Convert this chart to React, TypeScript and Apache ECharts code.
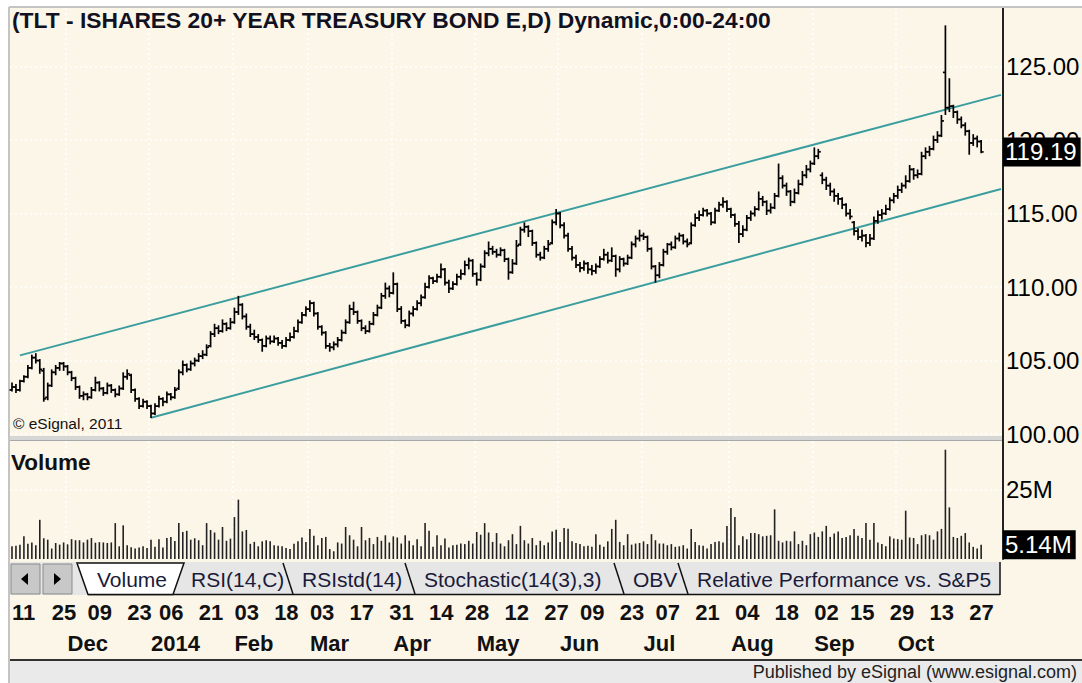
import React, { useEffect, useRef } from "react";
import * as echarts from "echarts";

// ---------- calendar ----------
const FIRST_DAY = "2013-11-11";
const LAST_AXIS_DAY = "2014-11-06";
const HOLIDAYS = ["2013-11-28", "2013-12-25", "2014-01-01", "2014-01-20", "2014-02-17", "2014-04-18", "2014-05-26", "2014-07-04", "2014-09-01"];

function tradingDays(start: string, end: string, holidays: string[]): string[] {
  const out: string[] = [];
  const d = new Date(start + "T00:00:00Z");
  const e = new Date(end + "T00:00:00Z");
  while (d <= e) {
    const wd = d.getUTCDay();
    const s = d.toISOString().slice(0, 10);
    if (wd !== 0 && wd !== 6 && holidays.indexOf(s) < 0) out.push(s);
    d.setUTCDate(d.getUTCDate() + 1);
  }
  return out;
}
const DATES = tradingDays(FIRST_DAY, LAST_AXIS_DAY, HOLIDAYS);

const DAY_LABEL_DATES = ["2013-11-11", "2013-11-25", "2013-12-09", "2013-12-23", "2014-01-06", "2014-01-21", "2014-02-03", "2014-02-18", "2014-03-03", "2014-03-17", "2014-03-31", "2014-04-14", "2014-04-28", "2014-05-12", "2014-05-27", "2014-06-09", "2014-06-23", "2014-07-07", "2014-07-21", "2014-08-04", "2014-08-18", "2014-09-02", "2014-09-15", "2014-09-29", "2014-10-13", "2014-10-27"];
const MONTH_START_DATES = ["2013-12-02", "2014-01-02", "2014-02-03", "2014-03-03", "2014-04-01", "2014-05-01", "2014-06-02", "2014-07-01", "2014-08-01", "2014-09-02", "2014-10-01"];
const MONTH_NAMES = ["Dec", "2014", "Feb", "Mar", "Apr", "May", "Jun", "Jul", "Aug", "Sep", "Oct"];

// ---------- price bars [open, high, low, close] ----------
const PRICE_BARS = [
  [103.0,103.5,102.9,103.2],[103.2,103.4,102.8,103.0],[103.0,103.7,102.9,103.6],[103.6,104.0,103.5,103.9],[103.9,104.7,103.8,104.5],
  [104.5,105.4,104.4,105.2],[105.2,105.5,104.8,105.0],[105.0,105.1,104.1,104.4],[104.3,104.5,102.2,102.4],[102.5,103.5,102.3,103.3],
  [103.3,104.4,103.2,104.2],[104.2,104.7,104.0,104.5],[104.5,104.9,104.3,104.8],[104.8,104.9,104.3,104.6],[104.6,104.7,104.0,104.2],
  [104.2,104.3,103.6,103.8],[103.8,103.9,103.0,103.2],[103.2,103.3,102.4,102.6],[102.6,102.9,102.3,102.7],[102.7,102.8,102.3,102.5],
  [102.5,103.2,102.4,103.0],[103.0,103.9,102.9,103.5],[103.5,103.6,102.9,103.1],[103.1,103.2,102.6,102.8],[102.8,103.5,102.7,103.3],
  [103.3,103.4,102.8,103.0],[103.0,103.1,102.5,102.7],[102.7,103.3,102.6,103.1],[103.1,104.2,103.0,103.9],[103.9,104.4,103.7,104.1],
  [104.0,104.1,102.8,103.0],[103.0,103.1,102.2,102.4],[102.4,102.5,101.7,101.9],[101.9,102.4,101.8,102.2],[102.2,102.3,101.7,101.9],
  [101.9,102.0,101.1,101.4],[101.4,102.1,101.3,101.9],[101.9,102.6,101.8,102.4],[102.4,102.5,101.9,102.2],[102.2,102.9,102.1,102.7],
  [102.7,102.8,102.3,102.5],[102.5,103.2,102.4,103.0],[103.1,104.4,103.0,104.2],[104.2,105.0,104.0,104.7],[104.7,104.8,104.2,104.4],
  [104.4,105.0,104.3,104.8],[104.8,105.2,104.6,105.0],[105.0,105.5,104.9,105.3],[105.3,105.7,105.1,105.4],[105.4,106.1,105.3,105.9],
  [106.0,107.0,105.9,106.8],[106.8,107.5,106.6,107.2],[107.2,107.4,106.8,107.0],[107.0,107.8,106.9,107.5],[107.5,107.6,107.0,107.2],
  [107.2,107.9,107.1,107.6],[107.6,108.6,107.5,108.3],[108.3,109.4,108.1,108.8],[108.8,108.9,107.8,108.0],[108.0,108.2,107.1,107.3],
  [107.3,107.5,106.6,106.8],[106.8,107.1,106.4,106.6],[106.6,106.8,106.2,106.4],[106.4,106.5,105.6,106.0],[106.0,106.7,105.9,106.5],
  [106.5,106.7,106.1,106.3],[106.3,106.7,106.2,106.5],[106.5,106.6,106.0,106.2],[106.2,106.4,105.8,106.0],[106.0,106.6,105.9,106.4],
  [106.4,106.9,106.3,106.6],[106.6,107.3,106.5,107.0],[107.0,107.8,106.9,107.6],[107.6,108.3,107.5,108.1],[108.1,108.7,108.0,108.5],
  [108.5,109.1,108.3,108.9],[108.9,109.0,108.0,108.2],[108.2,108.3,107.1,107.3],[107.3,107.4,106.7,106.9],[106.9,107.0,105.8,106.0],
  [106.0,106.2,105.6,105.9],[105.9,106.3,105.7,106.1],[106.1,106.6,105.9,106.4],[106.4,107.1,106.3,106.9],[106.9,107.8,106.8,107.6],
  [107.6,108.8,107.5,108.5],[108.5,109.0,108.1,108.3],[108.3,108.4,107.5,107.7],[107.7,107.8,107.0,107.2],[107.2,107.4,106.8,107.0],
  [107.0,107.7,106.9,107.5],[107.5,108.3,107.4,108.1],[108.1,108.8,108.0,108.6],[108.6,109.6,108.5,109.4],[109.4,110.3,109.2,109.9],
  [109.9,110.1,109.3,109.6],[109.6,111.0,109.5,110.2],[110.2,110.3,108.3,108.5],[108.5,108.7,107.5,107.7],[107.7,107.8,107.2,107.4],
  [107.4,108.4,107.3,108.2],[108.2,108.7,108.0,108.5],[108.5,109.1,108.4,108.9],[108.9,109.5,108.7,109.3],[109.3,110.3,109.2,110.0],
  [110.0,110.8,109.9,110.6],[110.6,110.7,110.2,110.4],[110.4,110.9,110.3,110.7],[110.7,111.6,110.6,111.2],[111.2,111.3,110.1,110.3],
  [110.3,110.5,109.6,109.9],[109.9,110.4,109.8,110.2],[110.2,110.9,110.1,110.7],[110.7,111.2,110.5,110.9],[110.9,111.8,110.8,111.5],
  [111.5,112.0,111.2,111.8],[111.8,111.9,110.7,110.9],[110.9,111.0,110.1,110.5],[110.5,111.6,110.4,111.4],[111.4,112.5,111.3,112.3],
  [112.3,113.1,112.1,112.6],[112.6,112.8,112.2,112.4],[112.4,112.6,112.0,112.2],[112.2,112.7,112.1,112.5],[112.5,112.6,111.7,111.9],
  [111.9,112.0,110.5,111.0],[111.0,111.9,110.9,111.6],[111.6,113.2,111.5,112.8],[112.9,114.1,112.8,113.9],[113.9,114.4,113.7,114.1],
  [114.1,114.2,113.4,113.8],[113.8,113.9,112.8,113.0],[113.0,113.1,112.0,112.2],[112.2,112.4,111.8,112.0],[112.0,112.8,111.9,112.6],
  [112.6,113.2,112.4,112.9],[113.0,114.6,112.9,114.4],[114.4,115.3,114.2,115.0],[115.0,115.1,114.0,114.2],[114.2,114.4,113.3,113.5],
  [113.5,113.7,112.4,112.6],[112.6,112.8,111.8,112.0],[112.0,112.2,111.3,111.5],[111.5,111.7,111.0,111.3],[111.3,111.8,111.1,111.6],
  [111.6,111.7,110.9,111.2],[111.2,111.5,110.8,111.1],[111.1,111.6,110.9,111.4],[111.4,112.1,111.3,111.9],[111.9,112.6,111.8,112.2],
  [112.2,112.4,111.6,111.8],[111.8,112.7,111.7,112.1],[112.1,112.2,110.7,111.2],[111.2,112.1,111.0,111.9],[111.9,112.0,111.4,111.6],
  [111.6,112.2,111.5,112.0],[112.0,113.1,111.9,112.9],[112.9,113.5,112.7,113.3],[113.3,113.9,113.1,113.5],[113.5,113.7,113.2,113.4],
  [113.4,113.5,112.4,112.6],[112.6,112.7,111.2,111.4],[111.4,111.5,110.3,110.8],[110.8,111.7,110.6,111.5],[111.5,112.6,111.4,112.4],
  [112.4,113.0,112.2,112.9],[112.9,113.1,112.5,112.7],[112.7,113.5,112.6,113.3],[113.3,113.7,113.1,113.5],[113.5,113.6,112.9,113.1],
  [113.1,113.3,112.7,112.9],[113.0,114.4,112.9,114.2],[114.2,115.0,114.1,114.7],[114.7,115.2,114.5,114.9],[114.9,115.4,114.8,115.2],
  [115.2,115.3,114.8,115.0],[115.0,115.1,114.2,114.4],[114.4,115.4,114.3,115.2],[115.2,115.8,115.1,115.6],[115.6,116.1,115.4,115.8],
  [115.8,115.9,115.1,115.3],[115.3,115.4,114.7,114.9],[114.9,115.0,114.1,114.3],[114.3,114.5,113.0,113.6],[113.6,114.2,113.4,113.9],
  [113.9,114.9,113.8,114.7],[114.7,115.2,114.5,115.0],[115.0,115.5,114.8,115.3],[115.3,116.5,115.2,116.0],[116.0,116.2,115.5,115.8],
  [115.8,115.9,114.9,115.2],[115.2,115.7,115.0,115.4],[115.4,116.4,115.3,116.2],[116.2,118.4,116.1,117.4],[117.4,117.6,116.7,116.9],
  [116.9,117.1,116.2,116.5],[116.5,116.6,115.5,115.8],[115.8,116.7,115.7,116.4],[116.4,117.3,116.3,117.0],[117.0,117.9,116.9,117.6],
  [117.6,118.3,117.4,118.0],[118.0,118.6,117.8,118.4],[118.4,119.5,118.3,118.9],[118.9,119.4,118.7,119.2],[117.6,117.8,117.0,117.3],
  [117.3,117.5,116.6,116.9],[116.9,117.1,116.2,116.5],[116.5,116.7,115.8,116.2],[116.2,116.4,115.6,116.0],[116.0,116.1,115.3,115.6],
  [115.6,115.7,114.8,115.0],[115.0,115.3,114.6,114.8],[114.4,114.5,113.5,113.8],[113.8,114.0,113.2,113.4],[113.4,113.9,113.1,113.5],
  [113.5,113.6,112.7,113.0],[113.0,113.6,112.8,113.3],[113.3,114.8,113.2,114.5],[114.5,115.2,114.3,114.9],[114.9,115.3,114.6,115.0],
  [115.0,115.6,114.9,115.3],[115.3,116.1,115.2,115.9],[115.9,116.4,115.7,116.2],[116.2,116.9,116.0,116.6],[116.6,117.1,116.4,116.9],
  [116.9,117.6,116.7,117.2],[117.2,118.3,117.1,118.0],[118.0,118.1,117.3,117.6],[117.6,118.0,117.4,117.7],[117.7,119.2,117.6,118.9],
  [118.9,119.5,118.7,119.2],[119.2,119.6,118.9,119.4],[119.4,120.3,119.3,120.0],[120.0,120.6,119.8,120.3],[120.3,121.7,120.2,121.3],
  [124.6,127.8,121.7,122.2],[122.2,124.2,121.9,122.3],[122.3,122.4,121.5,121.9],[121.9,122.0,121.1,121.4],[121.4,121.6,120.8,121.0],
  [121.0,121.2,120.3,120.6],[120.6,120.7,119.0,119.8],[119.8,120.4,119.6,120.1],[120.1,120.3,119.5,119.9],[119.9,120.0,119.1,119.19],
];

// ---------- volume, millions ----------
const VOLUME_M = [
  4.6,4.8,5.2,8.2,5.5,6.0,5.0,14.2,7.5,7.0,
  3.8,5.8,5.2,6.0,5.3,7.2,6.8,6.8,6.0,7.0,
  7.6,5.9,6.1,6.0,5.8,6.0,13.0,4.6,12.2,5.0,
  4.3,3.8,4.2,4.6,4.0,7.0,4.4,7.2,4.2,7.6,
  8.0,6.5,13.0,9.8,10.2,7.0,7.5,6.8,5.0,13.0,
  10.5,9.6,7.0,11.6,6.6,7.4,15.2,21.5,10.0,10.5,
  5.5,6.2,4.6,6.4,6.8,6.4,5.0,4.8,4.6,4.0,
  3.6,5.5,6.4,7.8,6.2,10.9,8.4,5.0,7.6,8.0,
  3.6,2.8,6.0,5.6,11.6,8.6,7.0,4.6,11.6,6.8,
  7.6,5.4,8.0,6.6,8.6,6.0,8.2,7.8,5.6,8.6,
  6.6,5.0,7.2,4.6,13.0,10.2,4.4,8.6,5.0,7.4,
  4.2,5.0,5.2,5.6,5.4,6.6,5.6,9.8,8.8,13.0,
  9.6,6.2,9.4,5.6,4.6,6.8,9.0,5.4,12.0,6.8,
  5.6,7.6,5.0,6.6,5.0,6.0,10.0,10.6,6.2,11.2,
  11.0,6.4,5.8,5.4,4.6,4.8,4.4,9.0,5.2,4.4,
  6.4,10.9,14.2,6.2,5.0,9.0,5.2,5.6,5.8,6.4,
  5.4,9.0,6.8,5.6,5.6,5.0,5.4,4.4,4.6,5.0,
  3.8,10.9,6.2,5.0,4.8,3.8,5.4,6.2,6.4,6.0,
  12.0,18.5,15.2,5.0,8.2,7.2,9.4,9.4,9.0,8.2,
  8.4,8.6,18.0,6.6,6.0,6.6,6.4,10.0,5.4,6.6,
  5.0,9.0,9.6,8.0,10.0,12.0,8.0,9.2,10.0,7.6,
  8.0,8.6,10.9,8.4,7.6,13.0,7.0,13.0,6.0,5.4,
  4.6,8.2,7.4,7.2,7.0,17.5,7.8,7.6,5.4,8.6,
  9.0,8.6,7.0,10.0,10.9,39.6,18.7,8.0,7.6,8.4,
  9.4,6.0,4.4,3.8,5.14,
];

const LAST_CLOSE = 119.19;
const LAST_VOLUME = 5.14;
const PRICE_TICKS = [100, 105, 110, 115, 120, 125];
const VOLUME_TICKS = [25];

// trend channel [bar index, price]
const CHANNEL_UPPER = [[2, 105.35], [249, 123.07]];
const CHANNEL_LOWER = [[35, 101.11], [249, 116.67]];

const TITLE = "(TLT - ISHARES 20+ YEAR TREASURY BOND E,D) Dynamic,0:00-24:00";
const TAB_LABELS = ["Volume", "RSI(14,C)", "RSIstd(14)", "Stochastic(14(3),3)", "OBV", "Relative Performance vs. S&P5"];
const TAB_LEFT = [77, 172, 283, 405, 614, 678];

const FONT = '"Liberation Sans", Arial, sans-serif';
const CREAM = "#FCF6E9";
const TEAL = "#3B9E9E";

export default function App() {
  const ref = useRef<HTMLDivElement>(null);
  useEffect(() => {
    if (!ref.current) return;
    const chart = echarts.init(ref.current, undefined, { renderer: "svg" });

    const monthSplit = (_i: number, v: string) => MONTH_START_DATES.indexOf(v) >= 0;
    const gridDot = { color: "#FFFFFF", type: [2, 3] as any, width: 1.5 };

    const renderOHLC = (_params: any, api: any) => {
      const i = api.value(0);
      const pO = api.coord([i, api.value(1)]);
      const pH = api.coord([i, api.value(2)]);
      const pL = api.coord([i, api.value(3)]);
      const pC = api.coord([i, api.value(4)]);
      const x = pH[0];
      const st = { stroke: "#000", lineWidth: 1.7 };
      return {
        type: "group",
        children: [
          { type: "line", shape: { x1: x, y1: pH[1], x2: x, y2: pL[1] }, style: st },
          { type: "line", shape: { x1: x - 2.5, y1: pO[1], x2: x, y2: pO[1] }, style: st },
          { type: "line", shape: { x1: x, y1: pC[1], x2: x + 2.5, y2: pC[1] }, style: st },
        ],
      };
    };

    // tabs graphics
    const tabEls: any[] = [];
    tabEls.push({ type: "rect", z: 5, shape: { x: 10, y: 562, width: 990, height: 33 }, style: { fill: "#E6E6E6" } });
    tabEls.push({ type: "line", z: 6, shape: { x1: 88, y1: 594.5, x2: 1000, y2: 594.5 }, style: { stroke: "#111", lineWidth: 1.5 } });
    tabEls.push({ type: "line", z: 6, shape: { x1: 1000, y1: 562, x2: 1000, y2: 595 }, style: { stroke: "#111", lineWidth: 1.5 } });
    for (let k = TAB_LABELS.length - 1; k >= 1; k--) {
      const L = TAB_LEFT[k];
      if (k >= 2) {
        tabEls.push({ type: "line", z: 6, shape: { x1: L, y1: 563, x2: L + 10, y2: 594 }, style: { stroke: "#111", lineWidth: 1.5 } });
      }
      tabEls.push({
        type: "text", z: 7, x: L + 19, y: 579,
        style: { text: TAB_LABELS[k], fontSize: 21, fontFamily: FONT, fill: "#1a1a3a", textVerticalAlign: "middle" },
      });
    }
    tabEls.push({
      type: "polygon", z: 8,
      shape: { points: [[77, 563], [88, 594.5], [173, 594.5], [184, 563]] },
      style: { fill: "#FFFFFF", stroke: "#111", lineWidth: 1.5 },
    });
    tabEls.push({
      type: "text", z: 9, x: 97, y: 579,
      style: { text: TAB_LABELS[0], fontSize: 21, fontFamily: FONT, fill: "#1a1a3a", textVerticalAlign: "middle" },
    });
    // scroll buttons
    tabEls.push({ type: "rect", z: 6, shape: { x: 11, y: 564, width: 29, height: 30 }, style: { fill: "#C8C8C8", stroke: "#8A8A8A", lineWidth: 1 } });
    tabEls.push({ type: "rect", z: 6, shape: { x: 43, y: 564, width: 29, height: 30 }, style: { fill: "#C8C8C8", stroke: "#8A8A8A", lineWidth: 1 } });
    tabEls.push({ type: "polygon", z: 7, shape: { points: [[21, 579], [28, 573], [28, 585]] }, style: { fill: "#000" } });
    tabEls.push({ type: "polygon", z: 7, shape: { points: [[54, 573], [54, 585], [61, 579]] }, style: { fill: "#000" } });

    const dottedMarkLine = (vals: number[]) => ({
      silent: true, z: 1, symbol: ["none", "none"], label: { show: false },
      lineStyle: { color: "#FFFFFF", type: [2, 3], width: 1.5 },
      emphasis: { disabled: true },
      data: vals.map((v) => ({ yAxis: v })),
    });

    const option: any = {
      animation: false,
      backgroundColor: "transparent",
      grid: [
        { left: 10, top: 8, width: 993, height: 429, show: false, outerBoundsMode: "none" },
        { left: 10, top: 441, width: 993, height: 118, show: false, outerBoundsMode: "none" },
      ],
      xAxis: [
        {
          type: "category", gridIndex: 0, data: DATES, boundaryGap: true,
          axisLine: { show: false }, axisTick: { show: false }, axisLabel: { show: false },
          splitLine: { show: true, interval: monthSplit, lineStyle: gridDot },
        },
        {
          type: "category", gridIndex: 1, data: DATES, boundaryGap: true, position: "bottom",
          axisLine: { show: false }, axisTick: { show: false },
          splitLine: { show: true, interval: monthSplit, lineStyle: gridDot },
          axisLabel: {
            show: true, interval: (_i: number, v: string) => DAY_LABEL_DATES.indexOf(v) >= 0,
            formatter: (v: string) => v.slice(8, 10), align: "left", margin: 42,
            fontSize: 22, fontWeight: "bold", color: "#111", fontFamily: FONT,
          },
        },
        {
          type: "category", gridIndex: 1, data: DATES, boundaryGap: true, position: "bottom",
          axisLine: { show: false }, axisTick: { show: false }, splitLine: { show: false },
          axisLabel: {
            show: true, interval: (_i: number, v: string) => MONTH_START_DATES.indexOf(v) >= 0,
            formatter: (v: string) => MONTH_NAMES[MONTH_START_DATES.indexOf(v)] || "", align: "left", margin: 73,
            fontSize: 22, fontWeight: "bold", color: "#111", fontFamily: FONT,
          },
        },
      ],
      yAxis: [
        {
          type: "value", gridIndex: 0, position: "right", min: 99.8, max: 128.98,
          axisLine: { show: true, lineStyle: { color: "#222", width: 2 } }, axisTick: { show: false }, splitLine: { show: false },
          axisLabel: { customValues: PRICE_TICKS, formatter: (v: number) => v.toFixed(2), fontSize: 24, color: "#000", margin: 3, fontFamily: FONT },
        },
        {
          type: "value", gridIndex: 0, position: "right", min: 99.8, max: 128.98,
          axisLine: { show: false }, axisTick: { show: false }, splitLine: { show: false },
          axisLabel: {
            customValues: [LAST_CLOSE], formatter: (v: number) => v.toFixed(2), fontSize: 24, color: "#fff",
            backgroundColor: "#000", padding: [3, 4, 2, 2], margin: 0, fontFamily: FONT,
          },
        },
        {
          type: "value", gridIndex: 1, position: "right", min: 0, max: 42.75,
          axisLine: { show: true, lineStyle: { color: "#222", width: 2 } }, axisTick: { show: false }, splitLine: { show: false },
          axisLabel: { customValues: VOLUME_TICKS, formatter: (v: number) => v + "M", fontSize: 24, color: "#000", margin: 3, fontFamily: FONT },
        },
        {
          type: "value", gridIndex: 1, position: "right", min: 0, max: 42.75,
          axisLine: { show: false }, axisTick: { show: false }, splitLine: { show: false },
          axisLabel: {
            customValues: [LAST_VOLUME], formatter: (v: number) => v.toFixed(2) + "M", fontSize: 24, color: "#fff",
            backgroundColor: "#000", padding: [3, 4, 2, 2], margin: 0, fontFamily: FONT,
          },
        },
      ],
      series: [
        // horizontal dotted grid lines (beneath everything else)
        { type: "line", xAxisIndex: 0, yAxisIndex: 0, data: [], z: 0, silent: true, markLine: dottedMarkLine(PRICE_TICKS) },
        { type: "line", xAxisIndex: 1, yAxisIndex: 2, data: [], z: 0, silent: true, markLine: dottedMarkLine(VOLUME_TICKS) },
        { type: "line", xAxisIndex: 0, yAxisIndex: 0, data: CHANNEL_UPPER, symbol: "none", z: 3, lineStyle: { color: TEAL, width: 2 }, silent: true },
        { type: "line", xAxisIndex: 0, yAxisIndex: 0, data: CHANNEL_LOWER, symbol: "none", z: 3, lineStyle: { color: TEAL, width: 2 }, silent: true },
        {
          type: "custom", xAxisIndex: 0, yAxisIndex: 0, z: 4,
          data: PRICE_BARS.map((b, i) => [i, b[0], b[1], b[2], b[3]]),
          encode: { x: 0, y: [1, 2, 3, 4] }, renderItem: renderOHLC, silent: true,
        },
        {
          type: "bar", xAxisIndex: 1, yAxisIndex: 2, data: VOLUME_M, barWidth: 1.6, z: 4, silent: true,
          itemStyle: { color: "#222" },
        },
      ],
      graphic: [
        { type: "rect", z: -10, shape: { x: 9, y: 7, width: 1073, height: 653 }, style: { fill: CREAM } },
        { type: "line", z: 1, shape: { x1: 9, y1: 7, x2: 1082, y2: 7 }, style: { stroke: "#C4C4C4", lineWidth: 2 } },
        { type: "line", z: 1, shape: { x1: 9, y1: 7, x2: 9, y2: 683 }, style: { stroke: "#C4C4C4", lineWidth: 2 } },
        { type: "rect", z: 1, shape: { x: 10, y: 661, width: 1072, height: 22 }, style: { fill: "#EAEAEA" } },
        { type: "line", z: 2, shape: { x1: 10, y1: 660, x2: 1082, y2: 660 }, style: { stroke: "#333", lineWidth: 2 } },
        {
          type: "text", z: 3, x: 1077, y: 672,
          style: { text: "Published by eSignal (www.esignal.com)", fontSize: 18, fontFamily: FONT, fill: "#222", textAlign: "right", textVerticalAlign: "middle" },
        },
        { type: "rect", z: 1, shape: { x: 10, y: 436, width: 993, height: 4 }, style: { fill: "#D6D6D6" } },
        { type: "line", z: 1, shape: { x1: 10, y1: 440.5, x2: 1003, y2: 440.5 }, style: { stroke: "#A8A8A8", lineWidth: 1 } },
        { type: "line", z: 1, shape: { x1: 1003, y1: 436, x2: 1003, y2: 442 }, style: { stroke: "#222", lineWidth: 2 } },
        {
          type: "text", z: 3, x: 12, y: 20,
          style: { text: TITLE, fontSize: 22.8, fontWeight: "bold", fontFamily: FONT, fill: "#111122", textVerticalAlign: "middle" },
        },
        {
          type: "text", z: 3, x: 13, y: 423,
          style: { text: "\u00A9 eSignal, 2011", fontSize: 15.5, fontFamily: FONT, fill: "#111", textVerticalAlign: "middle" },
        },
        {
          type: "text", z: 3, x: 11, y: 462,
          style: { text: "Volume", fontSize: 22.5, fontWeight: "bold", fontFamily: FONT, fill: "#111", textVerticalAlign: "middle" },
        },
        ...tabEls,
      ],
    };
    chart.setOption(option);
    return () => chart.dispose();
  }, []);

  return (
    <div
      ref={ref}
      style={{ position: "absolute", left: 0, top: 0, width: 1082, height: 683, background: "#fff", overflow: "hidden" }}
    />
  );
}
